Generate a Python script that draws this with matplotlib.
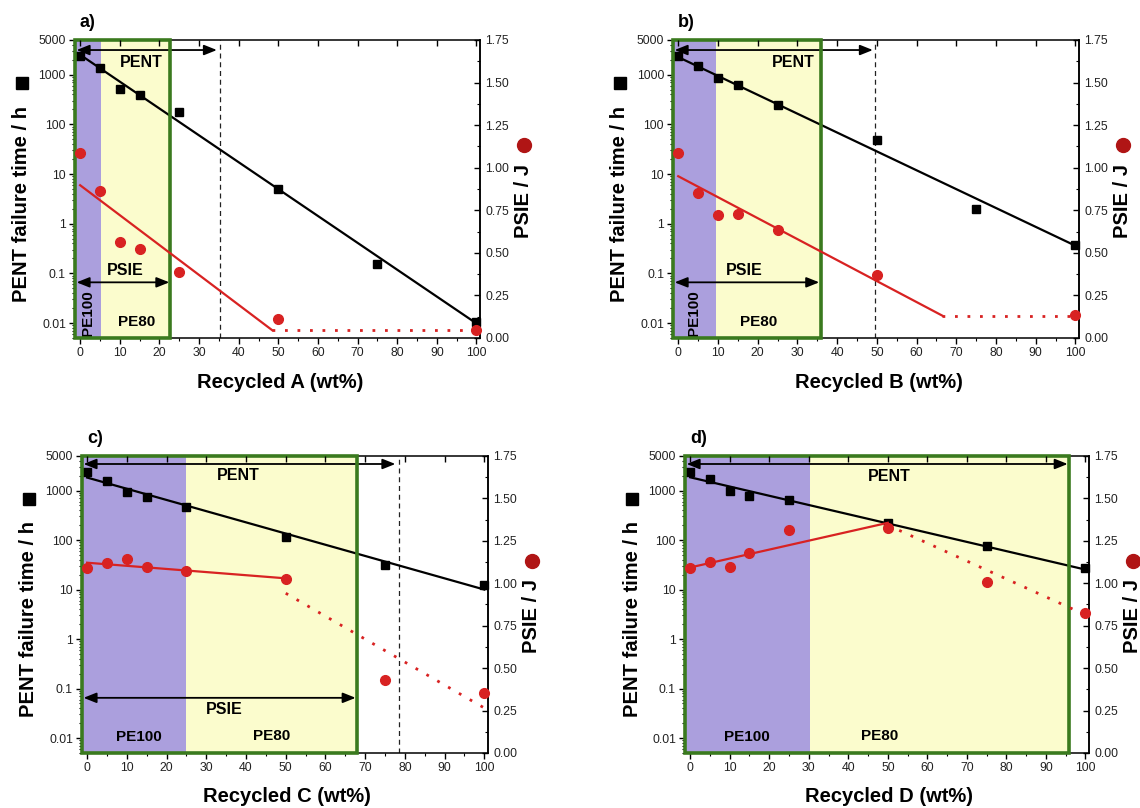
import matplotlib
matplotlib.use("Agg")
import matplotlib.pyplot as plt
from matplotlib.patches import Rectangle
from matplotlib.transforms import blended_transform_factory
from matplotlib.ticker import FixedLocator, FixedFormatter, MultipleLocator, LogLocator, NullFormatter

plt.rcParams['font.family'] = ['Liberation Sans', 'DejaVu Sans']

# ---------------- data ----------------
x_pent = [0, 5, 10, 15, 25, 50, 75, 100]

pent_a = [2330, 1360, 515, 391, 175, 5.1, 0.152, 0.0105]
x_psie_a = [0, 5, 10, 15, 25, 50, 100]
psie_a = [1.088, 0.862, 0.562, 0.523, 0.386, 0.112, 0.049]
fit_pent_a_x = [0, 100]
fit_pent_a_y = [2520, 0.0098]
fit_psie_a_x = [0, 48.5]
fit_psie_a_y = [0.897, 0.045]
dot_psie_a_x = [48.5, 100]
dot_psie_a_y = [0.045, 0.045]

pent_b = [2330, 1515, 858, 630, 246, 48, 2.0, 0.38]
x_psie_b = [0, 5, 10, 15, 25, 50, 100]
psie_b = [1.088, 0.852, 0.725, 0.729, 0.633, 0.370, 0.137]
fit_pent_b_x = [0, 100]
fit_pent_b_y = [2265, 0.36]
fit_psie_b_x = [0, 66.5]
fit_psie_b_y = [0.950, 0.131]
dot_psie_b_x = [66.5, 100]
dot_psie_b_y = [0.131, 0.131]

pent_c = [2415, 1590, 925, 735, 455, 115, 31.8, 12.2]
x_psie_c = [0, 5, 10, 15, 25, 50, 75, 100]
psie_c = [1.088, 1.117, 1.142, 1.093, 1.072, 1.023, 0.431, 0.353]
fit_pent_c_x = [0, 100]
fit_pent_c_y = [1830, 10]
fit_psie_c_x = [0, 50]
fit_psie_c_y = [1.121, 1.029]
dot_psie_c_x = [50, 100]
dot_psie_c_y = [0.941, 0.265]

pent_d = [2415, 1690, 1000, 781, 649, 220, 76.9, 26.9]
x_psie_d = [0, 5, 10, 15, 25, 50, 75, 100]
psie_d = [1.088, 1.127, 1.097, 1.176, 1.313, 1.323, 1.005, 0.827]
fit_pent_d_x = [0, 100]
fit_pent_d_y = [1853, 25.3]
fit_psie_d_x = [0, 50]
fit_psie_d_y = [1.093, 1.356]
dot_psie_d_x = [50, 98]
dot_psie_d_y = [1.342, 0.835]

y_ticks = [0.01, 0.1, 1, 10, 100, 1000, 5000]
y_ticklabels = ['0.01', '0.1', '1', '10', '100', '1000', '5000']
y2_ticks = [0, 0.25, 0.5, 0.75, 1.0, 1.25, 1.5, 1.75]
y2_ticklabels = ['0.00', '0.25', '0.50', '0.75', '1.00', '1.25', '1.50', '1.75']

PURPLE = '#ab9fdd'
YELLOW = '#fbfccd'
GREEN = '#3a7a1e'
RED = '#d82222'
DARKRED = '#b01515'

XMIN, XMAX = -1.3, 100.9

panels = [
    dict(tag='a)', xlabel='Recycled A (wt%)', rect=[0.0658, 0.5817, 0.3553, 0.3688],
         pent=pent_a, xpsie=x_psie_a, psie=psie_a,
         fpx=fit_pent_a_x, fpy=fit_pent_a_y, fsx=fit_psie_a_x, fsy=fit_psie_a_y,
         dsx=dot_psie_a_x, dsy=dot_psie_a_y,
         purple=5.2, green=22.7, pent_arrow=34.5, pent_y=3140, dashed=35.2,
         pent_txt=(15.3, 1800), psie_arrow=22.5, psie_y=0.066, psie_txt=(11.5, 0.115),
         pe100=(1.9, 0.016, 90), pe80=(14.3, 0.0105)),
    dict(tag='b)', xlabel='Recycled B (wt%)', rect=[0.5904, 0.5817, 0.3561, 0.3688],
         pent=pent_b, xpsie=x_psie_b, psie=psie_b,
         fpx=fit_pent_b_x, fpy=fit_pent_b_y, fsx=fit_psie_b_x, fsy=fit_psie_b_y,
         dsx=dot_psie_b_x, dsy=dot_psie_b_y,
         purple=9.4, green=35.9, pent_arrow=49.0, pent_y=3140, dashed=49.6,
         pent_txt=(29, 1800), psie_arrow=35.5, psie_y=0.066, psie_txt=(16.5, 0.115),
         pe100=(4.0, 0.016, 90), pe80=(20.2, 0.0105)),
    dict(tag='c)', xlabel='Recycled C (wt%)', rect=[0.0719, 0.0681, 0.3561, 0.3676],
         pent=pent_c, xpsie=x_psie_c, psie=psie_c,
         fpx=fit_pent_c_x, fpy=fit_pent_c_y, fsx=fit_psie_c_x, fsy=fit_psie_c_y,
         dsx=dot_psie_c_x, dsy=dot_psie_c_y,
         purple=25.0, green=67.9, pent_arrow=77.6, pent_y=3440, dashed=78.4,
         pent_txt=(38, 1980), psie_arrow=67.6, psie_y=0.065, psie_txt=(34.6, 0.037),
         pe100=(13, 0.0105, 0), pe80=(46.5, 0.011)),
    dict(tag='d)', xlabel='Recycled D (wt%)', rect=[0.6009, 0.0681, 0.3544, 0.3676],
         pent=pent_d, xpsie=x_psie_d, psie=psie_d,
         fpx=fit_pent_d_x, fpy=fit_pent_d_y, fsx=fit_psie_d_x, fsy=fit_psie_d_y,
         dsx=dot_psie_d_x, dsy=dot_psie_d_y,
         purple=30.2, green=95.9, pent_arrow=95.5, pent_y=3440, dashed=None,
         pent_txt=(50.4, 1900), psie_arrow=None, psie_y=None, psie_txt=None,
         pe100=(14.3, 0.0105, 0), pe80=(47.8, 0.011)),
]

fig = plt.figure(figsize=(11.4, 8.08), dpi=100)

arrowprops = dict(arrowstyle='<|-|>,head_length=0.55,head_width=0.22', color='black',
                  lw=1.3, shrinkA=0, shrinkB=0, mutation_scale=14)

for p in panels:
    ax = fig.add_axes(p['rect'])
    ax.set_yscale('log')
    ax.set_ylim(0.005, 5000)
    ax.set_xlim(XMIN, XMAX)
    ax2 = ax.twinx()
    ax2.set_ylim(0, 1.75)

    trans = blended_transform_factory(ax.transData, ax.transAxes)
    # background regions
    ax.axvspan(XMIN, p['purple'], color=PURPLE, zorder=0, lw=0)
    ax.axvspan(p['purple'], p['green'], color=YELLOW, zorder=0, lw=0)
    ax.add_patch(Rectangle((XMIN, 0), p['green'] - XMIN, 1, transform=trans, fill=False,
                           ec=GREEN, lw=2.6, clip_on=False, zorder=6))

    # dashed vertical line
    if p['dashed'] is not None:
        ax.axvline(p['dashed'], color='#222222', lw=0.9, ls=(0, (4, 3)), zorder=2)

    # PENT data
    ax.plot(p['fpx'], p['fpy'], color='black', lw=1.6, zorder=3)
    ax.plot(x_pent, p['pent'], 's', color='black', ms=6, zorder=4, clip_on=False)

    # PSIE data
    ax2.plot(p['fsx'], p['fsy'], color=RED, lw=1.6, zorder=3)
    ax2.plot(p['dsx'], p['dsy'], color=RED, lw=2.0, ls=(0, (1, 3.5)), zorder=3)
    ax2.plot(p['xpsie'], p['psie'], 'o', color=RED, ms=7, zorder=4, clip_on=False)

    # arrows and texts
    ax.annotate('', xy=(p['pent_arrow'], p['pent_y']), xytext=(-0.9, p['pent_y']),
                arrowprops=arrowprops, zorder=5)
    ax.text(p['pent_txt'][0], p['pent_txt'][1], 'PENT', ha='center', va='center',
            fontsize=11.5, fontweight='bold', zorder=5)
    if p['psie_arrow'] is not None:
        ax.annotate('', xy=(p['psie_arrow'], p['psie_y']), xytext=(-0.9, p['psie_y']),
                    arrowprops=arrowprops, zorder=5)
        ax.text(p['psie_txt'][0], p['psie_txt'][1], 'PSIE', ha='center', va='center',
                fontsize=11.5, fontweight='bold', zorder=5)
    ax.text(p['pe100'][0], p['pe100'][1], 'PE100', ha='center', va='center',
            rotation=p['pe100'][2], fontsize=11, fontweight='bold', zorder=5)
    ax.text(p['pe80'][0], p['pe80'][1], 'PE80', ha='center', va='center',
            fontsize=11, fontweight='bold', zorder=5)

    # ticks: left log axis
    ax.yaxis.set_major_locator(FixedLocator(y_ticks))
    ax.yaxis.set_major_formatter(FixedFormatter(y_ticklabels))
    ax.yaxis.set_minor_locator(LogLocator(base=10, subs=[2, 3, 4, 5, 6, 7, 8, 9], numticks=20))
    ax.yaxis.set_minor_formatter(NullFormatter())
    ax.xaxis.set_major_locator(MultipleLocator(10))
    ax.xaxis.set_minor_locator(MultipleLocator(5))
    ax.tick_params(axis='both', which='major', direction='out', length=4.5, width=1.0,
                   labelsize=8.8, labelcolor='#222222', pad=2)
    ax.tick_params(axis='both', which='minor', direction='out', length=2.5, width=0.8)
    ax.tick_params(axis='x', top=False)
    ax.tick_params(axis='y', right=False)

    # right axis
    ax2.yaxis.set_major_locator(FixedLocator(y2_ticks))
    ax2.yaxis.set_major_formatter(FixedFormatter(y2_ticklabels))
    ax2.yaxis.set_minor_locator(MultipleLocator(0.125))
    ax2.tick_params(axis='y', which='major', direction='in', length=4.5, width=1.0,
                    labelsize=8.8, labelcolor='#222222', pad=4)
    ax2.tick_params(axis='y', which='minor', direction='in', length=2.5, width=0.8)
    ax2.xaxis.set_visible(True)
    ax2.tick_params(axis='x', which='major', bottom=False, top=True, labelbottom=False,
                    labeltop=False, direction='in', length=4, width=1.0)
    ax2.tick_params(axis='x', which='minor', bottom=False, top=False)
    for s in ['left', 'top', 'bottom']:
        ax2.spines[s].set_visible(False)
    for s in ax.spines.values():
        s.set_linewidth(1.1)
    ax2.spines['right'].set_linewidth(1.1)

    # labels
    ax.text(-0.131, 0.45, 'PENT failure time / h', rotation=90, transform=ax.transAxes,
            ha='center', va='center', fontsize=14.5, fontweight='bold')
    ax.plot([-0.131], [0.856], 's', color='black', ms=9, transform=ax.transAxes, clip_on=False)
    ax.text(1.108, 0.46, 'PSIE / J', rotation=90, transform=ax.transAxes,
            ha='center', va='center', fontsize=14.5, fontweight='bold')
    ax.plot([1.108], [0.648], 'o', color=DARKRED, ms=10, transform=ax.transAxes, clip_on=False)
    ax.text(0.506, -0.148, p['xlabel'], transform=ax.transAxes, ha='center', va='center',
            fontsize=14.5, fontweight='bold')
    ax.text(0.012, 1.06, p['tag'], transform=ax.transAxes, ha='left', va='center',
            fontsize=13, fontweight='bold')

fig.savefig('out.png', dpi=100)
